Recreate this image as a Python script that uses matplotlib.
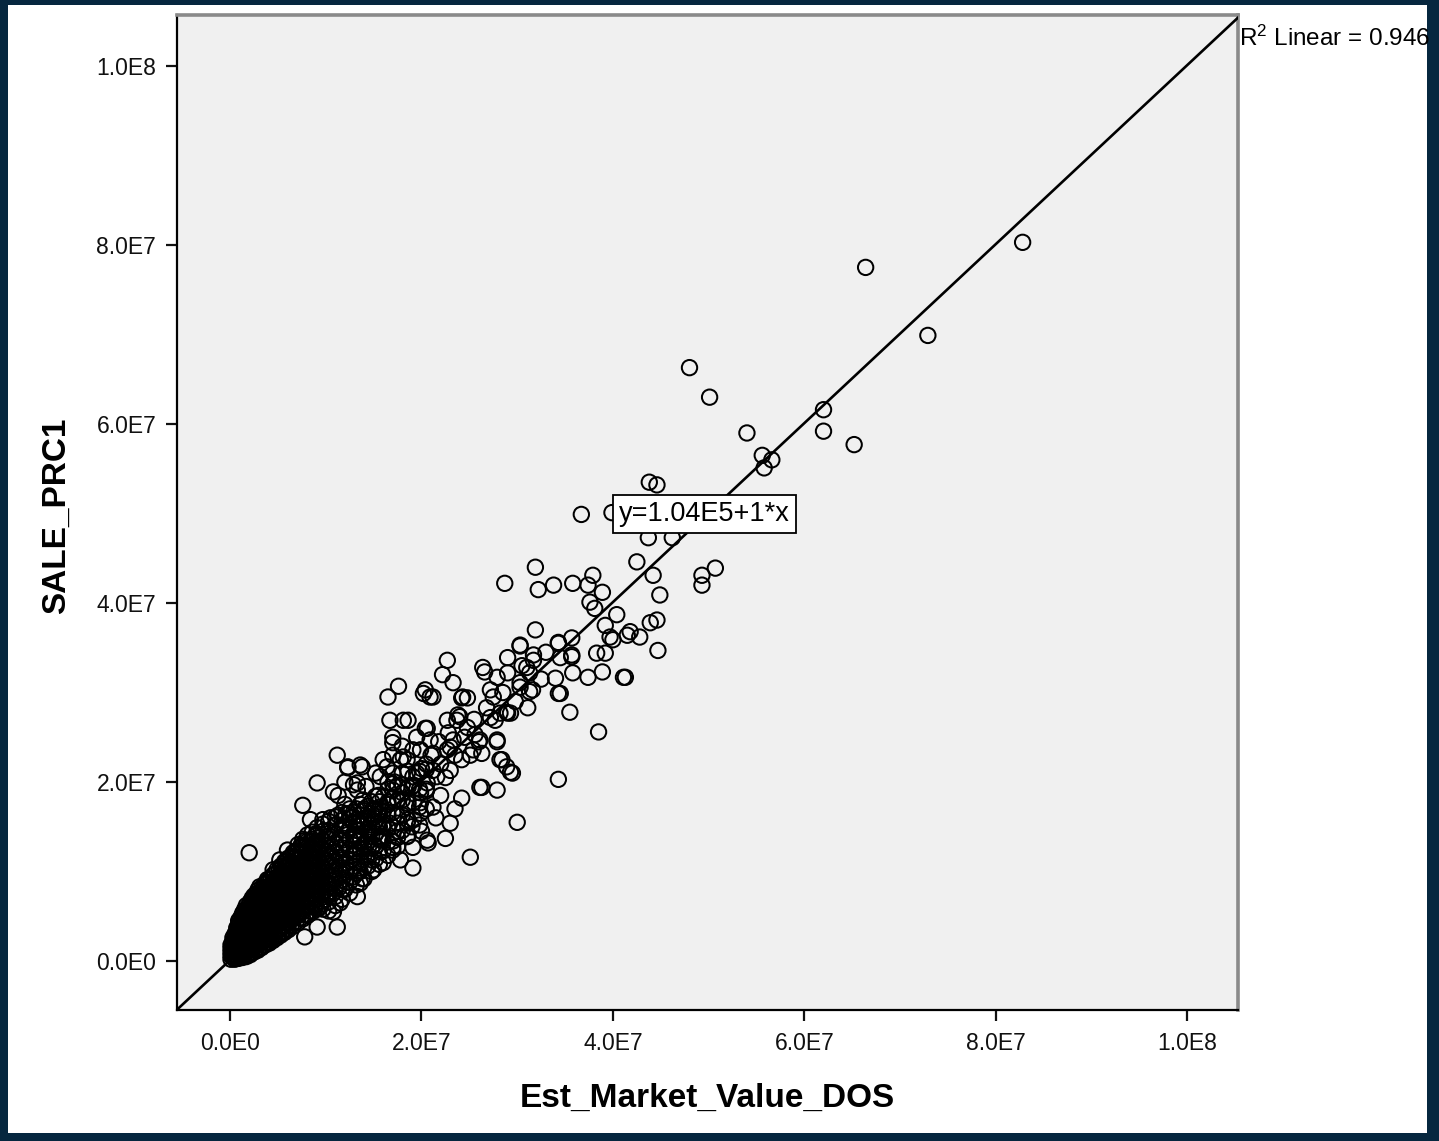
import numpy as np
import matplotlib.pyplot as plt
from matplotlib.patches import Rectangle

plt.rcParams['font.family'] = ['Liberation Sans', 'DejaVu Sans']
plt.rcParams['mathtext.default'] = 'regular'

# valores em milhoes: x = Est_Market_Value_DOS, y = SALE_PRC1
# nucleo denso perto da origem (x, lista de y)
core_rows = [
    (0.1, [0.2, 0.6, 1.0, 1.4, 1.8]),
    (0.5, [0.2, 0.6, 1.0, 1.5, 2.0, 2.5, 3.0]),
    (0.9, [0.3, 0.8, 1.3, 1.8, 2.3, 2.9, 3.4, 4.0, 4.5]),
    (1.3, [0.4, 0.9, 1.4, 1.9, 2.5, 3.0, 3.6, 4.2, 4.8, 5.3]),
    (1.7, [0.5, 1.0, 1.6, 2.1, 2.7, 3.3, 3.9, 4.5, 5.1, 5.7, 6.2]),
    (2.1, [0.7, 1.2, 1.8, 2.4, 3.0, 3.6, 4.2, 4.8, 5.4, 6.0, 6.6]),
    (2.5, [1.0, 1.5, 2.1, 2.7, 3.3, 3.9, 4.5, 5.1, 5.7, 6.3, 6.9, 7.3]),
    (2.9, [1.2, 1.8, 2.4, 3.0, 3.6, 4.2, 4.8, 5.4, 6.0, 6.6, 7.2, 7.9]),
    (3.3, [1.5, 2.1, 2.7, 3.3, 3.9, 4.5, 5.1, 5.7, 6.3, 6.9, 7.5, 8.2]),
    (3.7, [1.8, 2.4, 3.0, 3.6, 4.2, 4.8, 5.5, 6.1, 6.7, 7.3, 8.0, 8.7]),
    (4.1, [2.0, 2.6, 3.3, 3.9, 4.5, 5.2, 5.8, 6.4, 7.1, 7.7, 8.4, 9.1]),
    (4.5, [2.3, 2.9, 3.6, 4.3, 4.9, 5.6, 6.2, 6.9, 7.5, 8.2, 8.9, 9.6]),
    (4.9, [2.6, 3.3, 4.0, 4.6, 5.3, 6.0, 6.7, 7.3, 8.0, 8.7, 9.4, 10.2]),
    (5.3, [2.9, 3.6, 4.3, 5.0, 5.7, 6.4, 7.1, 7.8, 8.5, 9.2, 9.9, 10.6]),
    (5.7, [3.2, 3.9, 4.6, 5.4, 6.1, 6.8, 7.5, 8.2, 9.0, 9.7, 10.4, 11.1]),
    (6.1, [3.5, 4.3, 5.0, 5.8, 6.5, 7.2, 8.0, 8.7, 9.4, 10.2, 10.9, 11.5]),
    (6.6, [3.9, 4.7, 5.5, 6.2, 7.0, 7.8, 8.5, 9.3, 10.0, 10.8, 11.6, 12.1]),
    (7.1, [4.3, 5.1, 5.9, 6.7, 7.5, 8.3, 9.1, 9.9, 10.7, 11.5, 12.3, 13.0]),
    (7.6, [4.7, 5.5, 6.3, 7.2, 8.0, 8.8, 9.6, 10.4, 11.2, 12.1, 12.9, 13.6]),
    (8.1, [5.1, 6.0, 6.8, 7.7, 8.5, 9.4, 10.2, 11.0, 11.9, 12.7, 13.4, 14.1]),
    (8.6, [5.5, 6.4, 7.3, 8.2, 9.1, 10.0, 10.9, 11.8, 12.7, 13.6, 14.4]),
    (9.1, [5.8, 6.9, 7.8, 8.7, 9.6, 10.5, 11.4, 12.3, 13.2, 14.1, 14.9]),
    (9.7, [5.8, 6.7, 7.6, 8.5, 9.5, 10.5, 11.5, 12.5, 13.5, 14.5, 15.3]),
    (10.3, [5.6, 6.6, 7.6, 8.6, 9.6, 10.6, 11.6, 12.6, 13.6, 14.6, 15.6]),
    (11.0, [6.2, 7.2, 8.2, 9.2, 10.2, 11.2, 12.2, 13.2, 14.2, 15.2, 16.1]),
    (11.7, [6.9, 8.0, 9.1, 10.2, 11.3, 12.4, 13.5, 14.6, 15.7, 16.6]),
    (12.5, [7.6, 8.8, 10.0, 11.2, 12.4, 13.6, 14.8, 16.0, 17.0]),
    (13.2, [8.5, 9.8, 11.0, 12.2, 13.4, 14.6, 15.8, 17.0]),
    (14.0, [9.2, 10.5, 11.8, 13.0, 14.3, 15.6, 16.8]),
    (14.8, [10.0, 11.3, 12.6, 13.9, 15.2, 16.5, 17.8]),
    (15.6, [10.8, 12.2, 13.6, 15.0, 16.4, 17.8]),
    (16.5, [11.8, 13.3, 14.8, 16.3, 17.8, 19.2]),
    (17.5, [12.8, 14.5, 16.2, 17.9, 19.6]),
    (18.6, [14.0, 15.8, 17.6, 19.4, 21.2]),
    (19.8, [15.2, 17.2, 19.2, 21.2]),
    # segunda camada, entre as linhas acima
    (0.3, [0.4, 0.8, 1.2, 1.7, 2.2, 2.6]),
    (0.7, [0.4, 0.9, 1.3, 1.8, 2.3, 2.8, 3.3, 3.7]),
    (1.1, [0.6, 1.1, 1.6, 2.1, 2.6, 3.2, 3.7, 4.3, 4.8]),
    (1.5, [0.7, 1.2, 1.8, 2.3, 2.8, 3.4, 4.0, 4.6, 5.2, 5.7]),
    (1.9, [0.8, 1.4, 1.9, 2.5, 3.1, 3.7, 4.3, 4.9, 5.5, 6.1]),
    (2.3, [1.0, 1.6, 2.2, 2.8, 3.4, 4.0, 4.6, 5.2, 5.8, 6.4, 7.0]),
    (2.7, [1.3, 1.9, 2.5, 3.1, 3.7, 4.3, 4.9, 5.5, 6.1, 6.7, 7.4]),
    (3.1, [1.5, 2.1, 2.7, 3.4, 4.0, 4.6, 5.2, 5.8, 6.4, 7.1, 7.7]),
    (3.5, [1.8, 2.4, 3.1, 3.7, 4.3, 5.0, 5.6, 6.2, 6.9, 7.5, 8.2]),
    (3.9, [2.1, 2.7, 3.4, 4.1, 4.7, 5.4, 6.0, 6.7, 7.3, 8.0, 8.7]),
    (4.3, [2.4, 3.1, 3.7, 4.4, 5.1, 5.7, 6.4, 7.1, 7.8, 8.4, 9.1]),
    (4.7, [2.7, 3.4, 4.1, 4.8, 5.5, 6.2, 6.9, 7.6, 8.3, 9.0, 9.7]),
    (5.1, [3.0, 3.7, 4.4, 5.1, 5.8, 6.6, 7.3, 8.0, 8.7, 9.4, 10.1]),
    (5.5, [3.3, 4.0, 4.8, 5.5, 6.2, 7.0, 7.7, 8.4, 9.2, 9.9, 10.6]),
    (5.9, [3.6, 4.4, 5.1, 5.9, 6.6, 7.4, 8.1, 8.9, 9.6, 10.4, 11.1]),
    (6.4, [4.0, 4.8, 5.6, 6.3, 7.1, 7.9, 8.7, 9.4, 10.2, 11.0, 11.7]),
    (6.9, [4.4, 5.2, 6.0, 6.8, 7.6, 8.4, 9.2, 10.0, 10.8, 11.6, 12.3]),
    (7.4, [4.8, 5.6, 6.4, 7.3, 8.1, 8.9, 9.7, 10.6, 11.4, 12.2, 12.9]),
    (7.9, [5.2, 6.0, 6.9, 7.7, 8.6, 9.4, 10.3, 11.1, 12.0, 12.8, 13.5]),
    (8.4, [5.6, 6.5, 7.4, 8.2, 9.1, 10.0, 10.8, 11.7, 12.6, 13.4]),
    (8.9, [6.0, 6.9, 7.8, 8.7, 9.6, 10.5, 11.4, 12.3, 13.2, 14.0]),
    (9.4, [6.3, 7.3, 8.2, 9.1, 10.1, 11.0, 12.0, 12.9, 13.8]),
    (10.0, [6.9, 7.9, 8.9, 9.9, 10.9, 11.9, 12.9, 13.9]),
    (10.7, [7.5, 8.6, 9.6, 10.7, 11.7, 12.8, 13.8]),
    (11.4, [8.2, 9.3, 10.4, 11.5, 12.6, 13.7]),
    # terceira camada, faixa de 12 a 20 milhoes
    (12.1, [8.8, 9.9, 11.0, 12.1, 13.2, 14.3, 15.4, 16.4]),
    (12.9, [9.4, 10.6, 11.8, 13.0, 14.2, 15.4, 16.6]),
    (13.6, [10.0, 11.2, 12.5, 13.8, 15.1, 16.3, 17.5]),
    (14.4, [10.6, 11.9, 13.3, 14.7, 16.0, 17.3]),
    (15.2, [11.4, 12.8, 14.2, 15.6, 17.0, 18.4]),
    (16.0, [12.3, 13.8, 15.3, 16.8, 18.3]),
    (17.0, [13.4, 15.0, 16.6, 18.2, 19.8]),
    (18.0, [14.6, 16.3, 18.0, 19.7]),
    (19.2, [15.8, 17.7, 19.6]),
    (20.5, [17.0, 19.2, 21.4]),
]

# faixa intermediaria (10 a 45 milhoes)
band_points = [
    (12.0, 15.0), (12.5, 16.5), (13.0, 14.0), (13.5, 15.5), (14.0, 17.0),
    (14.5, 14.5), (15.0, 16.0), (15.5, 18.5), (16.0, 15.0), (16.5, 17.5),
    (13.0, 12.0), (14.0, 12.5), (15.0, 13.0), (11.0, 15.2), (10.5, 16.0),
    (12.0, 17.5), (16.5, 20.0), (17.5, 18.0), (18.0, 21.0), (19.0, 19.5),
    (18.5, 22.5), (20.0, 21.5), (21.0, 23.0), (20.5, 19.0), (22.0, 22.0),
    (22.5, 20.5), (23.5, 23.0), (24.5, 25.0), (25.5, 27.0), (26.0, 24.5),
    (19.5, 25.0), (18.0, 24.0), (17.0, 23.0),
    (22.7, 33.6), (22.2, 32.0), (17.6, 30.7), (16.5, 29.5), (20.4, 30.3),
    (20.9, 29.5), (23.3, 31.1), (24.3, 29.5), (26.4, 32.8), (29.0, 33.9),
    (27.2, 30.3), (16.7, 26.9), (18.1, 26.9), (17.0, 25.0), (20.4, 26.0),
    (23.7, 26.9), (27.7, 26.9), (29.0, 27.7), (11.2, 23.0), (13.6, 21.9),
    (12.3, 21.7), (9.1, 19.9), (10.8, 18.9), (7.6, 17.4), (12.9, 19.7),
    (26.3, 23.2), (27.9, 24.5), (28.4, 22.5), (29.3, 21.1), (24.2, 18.2),
    (26.3, 19.4), (27.9, 19.1), (30.0, 15.5), (25.1, 11.6), (23.0, 15.4),
    (22.5, 13.7), (20.7, 13.2), (19.1, 10.4), (2.0, 12.1), (13.3, 7.2),
    (11.2, 3.8), (9.1, 3.8), (7.8, 2.7),
    (15.7, 20.6), (17.8, 22.5), (19.1, 23.6), (20.9, 24.7), (22.7, 23.6),
    (23.3, 24.7), (24.8, 26.1), (25.4, 23.6), (21.2, 21.3), (19.1, 20.6),
    (17.0, 19.1), (15.7, 17.2), (14.3, 16.1), (18.5, 17.2), (19.9, 18.8),
    (17.5, 15.4), (15.7, 13.9), (17.0, 12.4), (14.3, 11.6), (12.9, 13.9),
    (12.2, 10.2), (10.1, 8.7), (13.6, 8.7), (11.5, 6.5), (9.4, 6.0),
    (24.2, 29.4), (24.8, 29.4), (26.6, 32.3), (30.3, 35.2), (31.7, 34.2),
    (34.3, 35.5), (35.7, 34.2), (38.3, 34.4), (40.0, 35.9), (44.7, 34.7),
    (41.3, 31.7), (37.4, 31.7), (38.9, 32.3), (35.8, 32.2), (34.0, 31.6),
    (34.5, 29.9), (35.5, 27.8), (38.5, 25.6), (34.3, 20.3), (31.1, 28.3),
    (27.9, 31.7), (29.0, 32.2), (31.0, 32.8), (31.6, 30.3), (30.3, 31.1),
    (28.9, 27.8), (27.2, 27.2), (27.9, 24.7), (28.2, 22.5), (28.9, 21.7),
    (29.5, 21.0), (26.1, 19.4), (20.2, 29.9), (21.2, 29.5), (18.6, 26.9),
    (24.0, 27.3), (22.7, 26.9), (20.6, 26.0), (26.1, 24.7), (25.1, 23.0),
    (31.9, 37.0), (30.3, 35.3), (34.3, 35.6), (35.7, 36.1), (35.7, 34.0),
    (34.5, 33.9), (31.3, 32.2), (31.7, 33.6), (30.3, 30.6), (31.3, 30.1),
    (28.2, 27.7), (29.3, 27.7), (34.3, 29.9),
    (12.3, 21.6), (13.8, 21.7), (11.3, 18.5), (12.0, 20.0), (13.3, 19.9),
    (13.3, 19.1), (17.0, 24.4), (16.4, 21.7), (17.0, 21.0), (18.1, 22.8),
    (19.9, 23.6), (21.2, 23.2), (23.0, 23.9), (20.6, 19.9), (21.6, 20.6),
    (23.0, 21.3), (19.9, 16.5), (21.2, 17.2), (13.9, 18.0), (14.9, 16.9),
    (9.7, 15.8), (11.3, 16.3), (8.4, 15.8), (12.9, 16.1), (6.0, 12.4),
    (5.2, 11.3), (4.5, 10.2), (3.9, 9.1), (3.1, 8.3), (18.5, 15.4),
    (18.5, 13.9), (19.1, 12.7), (15.7, 13.5), (17.0, 12.7), (17.8, 11.3),
    (16.7, 15.4), (15.4, 15.4), (14.6, 14.3), (13.6, 13.5), (20.6, 13.5),
    (19.9, 17.7),
    (14.2, 19.5), (15.2, 21.0), (16.0, 22.5), (17.2, 20.0), (18.0, 18.8),
    (19.5, 21.0), (20.5, 22.0), (21.8, 24.5), (22.8, 25.5), (23.8, 27.5),
    (24.2, 22.5), (25.6, 25.3), (26.8, 28.3), (27.5, 29.5), (28.5, 30.0),
    (29.8, 29.0), (30.5, 33.0), (32.5, 31.5), (33.0, 34.5), (19.0, 15.0),
    (20.0, 14.5), (21.5, 16.0), (22.0, 18.5), (23.5, 17.0), (16.0, 11.0),
    (17.5, 13.8), (15.0, 10.2), (13.8, 9.2), (12.0, 8.0), (10.8, 5.5),
]

# pontos acima de 35 milhoes
outlier_points = [
    (82.8, 80.3), (66.4, 77.5), (72.9, 69.9), (48.0, 66.3), (50.1, 63.0),
    (62.0, 61.6), (62.0, 59.2), (54.0, 59.0), (65.2, 57.7), (55.6, 56.5),
    (56.6, 56.0), (55.8, 55.1), (43.8, 53.5), (44.6, 53.2), (36.7, 49.9),
    (39.9, 50.1), (46.2, 47.3), (43.7, 47.3),
    (28.7, 42.2), (31.9, 44.0), (32.2, 41.5), (33.8, 42.0), (35.8, 42.2),
    (37.9, 43.1), (37.4, 42.0), (38.9, 41.2), (37.6, 40.1), (38.1, 39.4),
    (40.4, 38.7), (42.5, 44.6), (44.2, 43.1), (44.9, 40.9), (49.3, 43.1),
    (49.3, 42.0), (50.7, 43.9), (39.2, 37.5), (39.7, 36.2), (41.5, 36.4),
    (41.8, 36.8), (42.8, 36.2), (43.9, 37.8), (44.6, 38.1), (39.2, 34.4),
    (41.1, 31.7),
]

intercept = 1.04e5
slope = 1.0
r_squared = 0.946

tick_values = [0, 2e7, 4e7, 6e7, 8e7, 1e8]
tick_labels = ['0.0E0', '2.0E7', '4.0E7', '6.0E7', '8.0E7', '1.0E8']

est_value = []
sale_price = []
for x, ys in core_rows:
    for y in ys:
        est_value.append(x * 1e6)
        sale_price.append(y * 1e6)
for x, y in band_points + outlier_points:
    est_value.append(x * 1e6)
    sale_price.append(y * 1e6)

W, H = 1439, 1141
fig = plt.figure(figsize=(W / 100, H / 100), dpi=100, facecolor='#06273f')
fig.patches.append(Rectangle((8 / W, 8 / H), (1427 - 8) / W, (1136 - 8) / H,
                             transform=fig.transFigure, facecolor='white',
                             edgecolor='none', zorder=-10))

ax = fig.add_axes([177 / W, 131 / H, 1061 / W, 995 / H])
ax.set_facecolor('#f0f0f0')
ax.set_xlim(-5.54e6, 105.3e6)
ax.set_ylim(-5.47e6, 105.7e6)

ax.scatter(est_value, sale_price, s=122, facecolors='none', edgecolors='black',
           linewidths=1.45, zorder=3)

xs = np.array(ax.get_xlim())
ax.plot(xs, intercept + slope * xs, color='black', lw=1.9, zorder=4)

ax.text(49.6e6, 49.9e6, 'y=1.04E5+1*x', ha='center', va='center', fontsize=19.5,
        bbox=dict(boxstyle='square,pad=0.22', fc='white', ec='black', lw=1.3), zorder=5)

for side in ['left', 'bottom']:
    ax.spines[side].set_color('black')
    ax.spines[side].set_linewidth(1.6)
for side in ['top', 'right']:
    ax.spines[side].set_color('#8a8a8a')
    ax.spines[side].set_linewidth(2.6)

ax.set_xticks(tick_values)
ax.set_xticklabels(tick_labels)
ax.set_yticks(tick_values)
ax.set_yticklabels(tick_labels)
ax.tick_params(direction='out', length=8, width=1.6, labelsize=16.5, colors='#111111')
ax.tick_params(axis='x', pad=8)
ax.tick_params(axis='y', pad=7)

ax.set_xlabel('Est_Market_Value_DOS', fontsize=24, fontweight='bold')
ax.set_ylabel('SALE_PRC1', fontsize=24, fontweight='bold')
ax.xaxis.set_label_coords(0.5, -0.0733)
ax.yaxis.set_label_coords(-0.099, 0.4965)

fig.text(1239 / W, 1 - 38 / H, r'R$^2$ Linear = %.3f' % r_squared, fontsize=17.5,
         ha='left', va='center')

fig.savefig('out.png', dpi=100, facecolor=fig.get_facecolor())
